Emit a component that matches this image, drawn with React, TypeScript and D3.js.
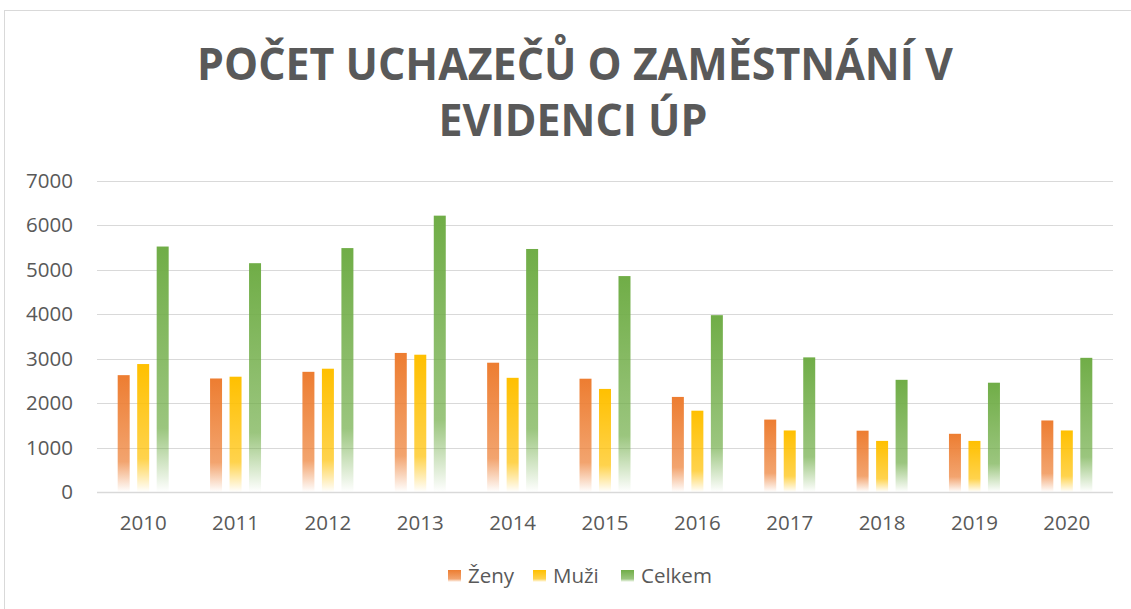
import { useEffect, useRef } from 'react';
import * as d3 from 'd3';

const years = ['2010', '2011', '2012', '2013', '2014', '2015', '2016', '2017', '2018', '2019', '2020'];
const zeny = [2630, 2555, 2705, 3130, 2910, 2550, 2140, 1630, 1380, 1310, 1610];
const muzi = [2880, 2595, 2775, 3090, 2570, 2320, 1830, 1385, 1150, 1150, 1385];
const celkem = [5525, 5150, 5490, 6220, 5470, 4860, 3980, 3030, 2525, 2460, 3020];
const seriesNames = ['Ženy', 'Muži', 'Celkem'];
const seriesColors = ['#ED7D31', '#FFC000', '#70AD47'];
const yTicks = [0, 1000, 2000, 3000, 4000, 5000, 6000, 7000];
const titleLines = ['POČET UCHAZEČŮ O ZAMĚSTNÁNÍ V', 'EVIDENCI ÚP'];

const W = 1131;
const H = 609;
const textColor = '#595959';
const font = '"Open Sans", "DejaVu Sans", sans-serif';

export default function App() {
  const svgRef = useRef<SVGSVGElement>(null);

  useEffect(() => {
    if (!svgRef.current) return;
    const svg = d3.select(svgRef.current);
    svg.selectAll('*').remove();

    const values = [zeny, muzi, celkem];

    const y = d3.scaleLinear().domain([0, 7000]).range([492, 181]);
    const x0 = d3.scaleBand<string>().domain(years).range([97, 1113])
      .paddingInner(0.448).paddingOuter(0.224);
    const x1 = d3.scaleBand<string>().domain(seriesNames).range([0, x0.bandwidth()])
      .paddingInner(0.385).paddingOuter(0);

    // gradients, one per series
    const defs = svg.append('defs');
    seriesColors.forEach((c, i) => {
      const g = defs.append('linearGradient')
        .attr('id', `grad${i}`)
        .attr('x1', 0).attr('y1', 0).attr('x2', 0).attr('y2', 1);
      g.append('stop').attr('offset', '0%').attr('stop-color', c).attr('stop-opacity', 1);
      g.append('stop').attr('offset', '74%').attr('stop-color', c).attr('stop-opacity', 0.7);
      g.append('stop').attr('offset', '100%').attr('stop-color', c).attr('stop-opacity', 0);
    });

    // chart frame
    svg.append('rect')
      .attr('x', 4.5).attr('y', 10.5)
      .attr('width', 1140).attr('height', 620)
      .attr('fill', '#fff')
      .attr('stroke', '#d9d9d9')
      .attr('stroke-width', 1);

    // title: narrow the font the same way on both lines
    const title = svg.append('g')
      .attr('font-family', font)
      .attr('font-weight', 700)
      .attr('font-size', 45)
      .attr('fill', textColor)
      .attr('text-anchor', 'middle');
    const t1 = title.append('text').attr('x', 0).attr('y', 0).text(titleLines[0]);
    const natural = (t1.node() as SVGTextElement).getComputedTextLength() || 756;
    const f = 756 / natural;
    t1.attr('transform', `translate(575,80) scale(${f},1)`);
    title.append('text')
      .attr('x', 0).attr('y', 0)
      .attr('transform', `translate(573,136) scale(${f},1)`)
      .text(titleLines[1]);

    // gridlines
    svg.append('g')
      .selectAll('line')
      .data(yTicks)
      .join('line')
      .attr('x1', 97).attr('x2', 1113)
      .attr('y1', d => Math.round(y(d)) + 0.5)
      .attr('y2', d => Math.round(y(d)) + 0.5)
      .attr('stroke', '#d9d9d9')
      .attr('stroke-width', d => (d === 0 ? 1.5 : 1.2));

    // y labels
    svg.append('g')
      .attr('font-family', font)
      .attr('font-size', 20.5)
      .attr('fill', textColor)
      .attr('text-anchor', 'end')
      .selectAll('text')
      .data(yTicks)
      .join('text')
      .attr('x', 73)
      .attr('y', d => y(d) + 7)
      .text(d => String(d));

    // x labels
    svg.append('g')
      .attr('font-family', font)
      .attr('font-size', 20.5)
      .attr('fill', textColor)
      .attr('text-anchor', 'middle')
      .selectAll('text')
      .data(years)
      .join('text')
      .attr('x', d => (x0(d) ?? 0) + x0.bandwidth() / 2)
      .attr('y', 530)
      .text(d => d);

    // bars
    const groups = svg.append('g')
      .selectAll('g')
      .data(years)
      .join('g')
      .attr('transform', d => `translate(${x0(d)},0)`);

    groups.selectAll('rect')
      .data((d, i) => seriesNames.map((s, k) => ({ s, k, v: values[k][i] })))
      .join('rect')
      .attr('x', d => x1(d.s) ?? 0)
      .attr('width', x1.bandwidth())
      .attr('y', d => y(d.v))
      .attr('height', d => y(0) - y(d.v))
      .attr('fill', d => `url(#grad${d.k})`);

    // legend
    const legendX = [448, 533, 621];
    const legend = svg.append('g')
      .attr('font-family', font)
      .attr('font-size', 20.5)
      .attr('fill', textColor);
    seriesNames.forEach((s, i) => {
      legend.append('rect')
        .attr('x', legendX[i]).attr('y', 570)
        .attr('width', 13).attr('height', 12)
        .attr('fill', `url(#grad${i})`);
      legend.append('text')
        .attr('x', legendX[i] + 20).attr('y', 583)
        .text(s);
    });
  }, []);

  return (
    <svg
      ref={svgRef}
      width={W}
      height={H}
      style={{ position: 'absolute', left: 0, top: 0, background: '#fff' }}
    />
  );
}
